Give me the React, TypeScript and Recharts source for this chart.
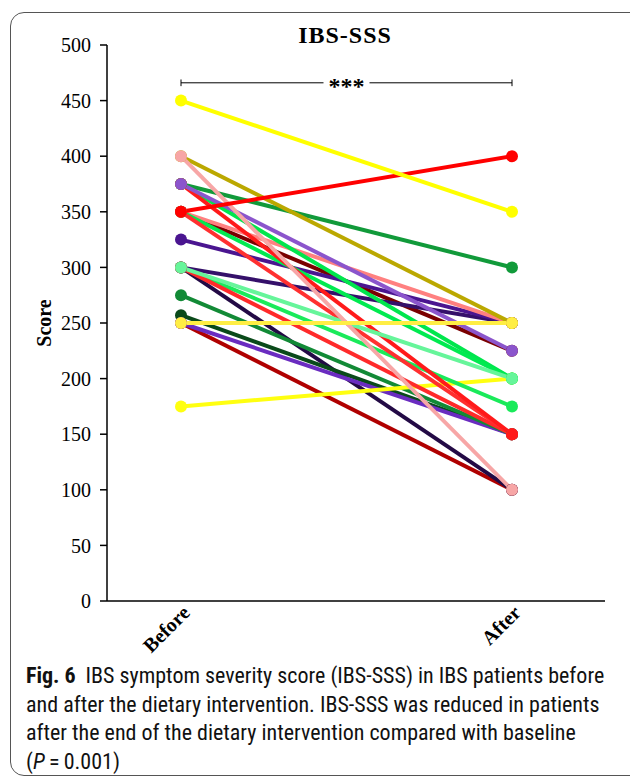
import React from "react";
import { LineChart, Line, XAxis, YAxis, ReferenceLine } from "recharts";

// time points
const timePoints = ["Before", "After"];

// one entry per patient (IBS-SSS score)
const patients = [
  "P1", "P2", "P3", "P4", "P5", "P6", "P7", "P8", "P9", "P10", "P11", "P12",
  "P13", "P14", "P15", "P16", "P17", "P18", "P19", "P20", "P21", "P22", "P23", "P24",
];
const beforeScores = [250, 300, 257, 250, 275, 175, 350, 300, 325, 350, 375, 375, 350, 300, 300, 350, 375, 300, 375, 400, 400, 350, 450, 250];
const afterScores = [100, 100, 150, 150, 150, 200, 225, 250, 250, 250, 300, 200, 200, 175, 150, 150, 150, 200, 225, 250, 100, 400, 350, 250];

const yTicks = [0, 50, 100, 150, 200, 250, 300, 350, 400, 450, 500];

// bracket level for the significance marker
const bracketLevel = 466;

const lineColors = [
  "#b00000", "#230a45", "#0a4a1a", "#6a2cc0", "#128a36", "#ffff10",
  "#7a0000", "#35106a", "#4a1590", "#ff8080", "#119a3a", "#00e64d",
  "#00ea50", "#1aea5a", "#ff2a2a", "#ff3030", "#ff1a1a", "#66f59a",
  "#8b55cc", "#bba800", "#f7a6a6", "#ff0000", "#ffff00", "#ffee44",
];

const chartData = timePoints.map((t, i) => {
  const row: Record<string, string | number> = { time: t };
  patients.forEach((p, j) => {
    row[p] = i === 0 ? beforeScores[j] : afterScores[j];
  });
  return row;
});

const serif = "'Liberation Serif', 'Times New Roman', serif";

const XTick = (props: any) => {
  const { x, y, payload } = props;
  const px = x + 10;
  const py = y + 11;
  return (
    <text
      x={px}
      y={py}
      transform={`rotate(-45, ${px}, ${py})`}
      textAnchor="end"
      fontFamily={serif}
      fontWeight="bold"
      fontSize={20}
      fill="#000"
    >
      {payload.value}
    </text>
  );
};

const StarsLabel = (props: any) => {
  const { viewBox } = props;
  const cx = viewBox.x + viewBox.width / 2;
  const cy = viewBox.y;
  return (
    <g>
      <rect x={cx - 23} y={cy - 8} width={46} height={16} fill="#fff" />
      <text x={cx} y={cy + 11} textAnchor="middle" fontFamily={serif} fontWeight="bold" fontSize={24} fill="#000">
        ***
      </text>
    </g>
  );
};

const ScoreLabel = (props: any) => {
  const { viewBox } = props;
  const cx = 44;
  const cy = viewBox.y + viewBox.height / 2;
  return (
    <text
      x={cx}
      y={cy}
      transform={`rotate(-90, ${cx}, ${cy})`}
      textAnchor="middle"
      dominantBaseline="central"
      fontFamily={serif}
      fontWeight="bold"
      fontSize={20}
      fill="#000"
    >
      Score
    </text>
  );
};

const captionFont = "'Liberation Sans Narrow', 'Roboto Condensed', 'Liberation Sans', sans-serif";

const captionStyle: React.CSSProperties = {
  fontFamily: captionFont,
  fontSize: 22,
  lineHeight: "28.5px",
  color: "#111",
  whiteSpace: "nowrap",
};

export default function App() {
  return (
    <div style={{ position: "absolute", left: 0, top: 0, width: 630, height: 778, overflow: "hidden", background: "#fff" }}>
      {/* figure frame */}
      <div
        style={{
          position: "absolute",
          left: 10,
          top: 12,
          width: 650,
          height: 762,
          border: "1px solid #555",
          borderRadius: 14,
        }}
      />
      <div
        style={{
          position: "absolute",
          left: 245,
          top: 22,
          width: 200,
          textAlign: "center",
          fontFamily: serif,
          fontWeight: "bold",
          fontSize: 24,
          letterSpacing: 1,
          color: "#000",
        }}
      >
        IBS-SSS
      </div>
      <div style={{ position: "absolute", left: 0, top: 0 }}>
        <LineChart width={630} height={680} data={chartData} margin={{ top: 45, right: 25, left: 0, bottom: 19 }}>
          <XAxis
            dataKey="time"
            scale="point"
            padding={{ left: 74, right: 93 }}
            axisLine={{ stroke: "#000", strokeWidth: 1.5 }}
            tickLine={false}
            tickSize={0}
            height={60}
            tick={<XTick />}
            interval={0}
          />
          <YAxis
            domain={[0, 500]}
            ticks={yTicks}
            width={107}
            axisLine={{ stroke: "#000", strokeWidth: 1.5 }}
            tickLine={{ stroke: "#000", strokeWidth: 1.5 }}
            tickSize={7}
            tickMargin={9}
            tick={{ fill: "#000", fontSize: 20, fontFamily: serif }}
            label={<ScoreLabel />}
          />
          {patients.map((p, j) => (
            <Line
              key={p}
              type="linear"
              dataKey={p}
              stroke={lineColors[j]}
              strokeWidth={4}
              dot={{ r: 6, fill: lineColors[j], stroke: "none" }}
              activeDot={false}
              isAnimationActive={false}
            />
          ))}
          <ReferenceLine
            segment={[
              { x: timePoints[0], y: bracketLevel },
              { x: timePoints[1], y: bracketLevel },
            ]}
            stroke="#000"
            strokeWidth={1}
            label={<StarsLabel />}
          />
          <ReferenceLine
            segment={[
              { x: timePoints[0], y: bracketLevel - 3 },
              { x: timePoints[0], y: bracketLevel + 3 },
            ]}
            stroke="#000"
            strokeWidth={1}
          />
          <ReferenceLine
            segment={[
              { x: timePoints[1], y: bracketLevel - 3 },
              { x: timePoints[1], y: bracketLevel + 3 },
            ]}
            stroke="#000"
            strokeWidth={1}
          />
        </LineChart>
      </div>
      <div style={{ position: "absolute", left: 26, top: 662, ...captionStyle }}>
        <div>
          <b>Fig. 6</b>
          {"\u2002IBS symptom severity score (IBS-SSS) in IBS patients before"}
        </div>
        <div>and after the dietary intervention. IBS-SSS was reduced in patients</div>
        <div>after the end of the dietary intervention compared with baseline</div>
        <div>
          (<i>P</i>
          {"\u2009=\u20090.001)"}
        </div>
      </div>
    </div>
  );
}
